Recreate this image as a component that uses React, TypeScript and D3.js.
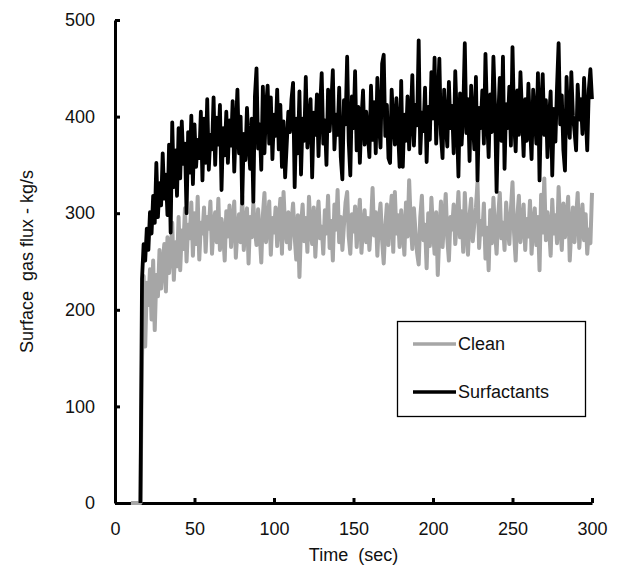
import React, { useEffect, useRef } from "react";
import * as d3 from "d3";

// time in seconds, one sample per second from t=10 to t=300
const startTime = 10;

// Surfactants run (black) - null before the flow starts
const surfactants: (number | null)[] = [
  null, null, null, null, null, null, 0, 232, 268, 251,
  284, 262, 301, 279, 318, 290, 352, 296, 331, 308,
  362, 315, 340, 298, 371, 280, 394, 327, 365, 318,
  388, 336, 395, 351, 372, 300, 384, 342, 401, 330,
  392, 348, 376, 357, 405, 334, 398, 352, 418, 345,
  381, 366, 420, 350, 399, 371, 412, 324, 388, 360,
  405, 352, 396, 370, 416, 343, 389, 428, 362, 400,
  310, 382, 355, 409, 372, 346, 398, 312, 421, 450,
  367, 392, 345, 431, 362, 410, 432, 372, 420, 356,
  402, 380, 428, 366, 412, 348, 395, 337, 371, 405,
  384, 418, 435, 327, 398, 362, 426, 340, 398, 375,
  441, 368, 392, 418, 337, 404, 381, 423, 359, 410,
  445, 372, 396, 350, 428, 385, 412, 448, 366, 402,
  381, 430, 358, 335, 417, 392, 462, 374, 339, 421,
  388, 447, 365, 410, 352, 398, 427, 371, 405, 383,
  358, 432, 376, 415, 362, 440, 394, 368, 455, 464,
  380, 412, 357, 352, 428, 395, 371, 419, 386, 348,
  437, 348, 402, 375, 421, 366, 398, 443, 370, 412,
  391, 479, 362, 404, 385, 430, 353, 410, 376, 446,
  398, 461, 372, 415, 460, 381, 357, 428, 394, 369,
  436, 388, 411, 362, 447, 396, 338, 424, 371, 405,
  476, 383, 418, 354, 432, 397, 366, 441, 334, 409,
  388, 427, 372, 465, 401, 358, 423, 384, 462, 411,
  322, 398, 440, 375, 462, 346, 413, 388, 431, 370,
  472, 395, 364, 427, 381, 446, 402, 359, 418, 375,
  434, 391, 356, 428, 403, 372, 445, 334, 412, 444,
  381, 417, 358, 398, 426, 339, 408, 374, 431, 476,
  392, 422, 365, 344, 441, 396, 378, 446, 401, 385,
  365, 433, 397, 418, 382, 440, 405, 365, 428, 449,
  418,
];

// Clean run (gray)
const clean: (number | null)[] = [
  0, 0, 0, 0, 0, 0, 0, 150, 235, 162,
  228, 205, 242, 190, 251, 179, 236, 214, 262, 222,
  246, 268, 219, 275, 238, 258, 290, 231, 270, 245,
  296, 241, 282, 263, 305, 250, 288, 274, 311, 256,
  300, 268, 317, 252, 290, 279, 306, 260, 296, 284,
  312, 258, 287, 301, 270, 315, 262, 294, 281, 251,
  302, 276, 308, 265, 291, 312, 254, 283, 299, 270,
  318, 262, 289, 305, 248, 296, 275, 310, 283, 267,
  304, 279, 249, 298, 321, 270, 288, 312, 257, 295,
  280, 306, 266, 292, 315, 258, 322, 284, 270, 301,
  263, 291, 310, 276, 252, 298, 234, 287, 309, 271,
  295, 260, 317, 282, 268, 306, 255, 290, 312, 274,
  286, 258, 303, 279, 318, 264, 292, 251, 309, 283,
  324, 270, 296, 262, 288, 311, 322, 276, 258, 299,
  281, 307, 265, 292, 314, 259, 286, 303, 270, 295,
  262, 289, 326, 277, 301, 256, 293, 310, 272, 248,
  286, 309, 267, 294, 318, 260, 322, 279, 298, 265,
  303, 284, 257, 311, 276, 334, 290, 263, 305, 281,
  259, 247, 296, 318, 272, 288, 243, 300, 266, 316,
  283, 258, 301, 236, 279, 312, 265, 293, 320, 274,
  251, 296, 283, 309, 268, 291, 322, 275, 302, 260,
  321, 284, 257, 298, 315, 271, 289, 306, 332, 264,
  292, 278, 310, 253, 285, 241, 303, 269, 316, 282,
  258, 297, 321, 274, 290, 262, 311, 285, 268, 304,
  332, 279, 251, 296, 318, 270, 288, 309, 262, 294,
  276, 313, 258, 289, 305, 267, 296, 241, 319, 280,
  336, 272, 301, 285, 256, 314, 279, 298, 269, 327,
  288, 262, 310, 275, 295, 317, 251, 284, 306, 270,
  296, 321, 264, 288, 309, 272, 299, 258, 283, 269,
  321,
];

const xTicks = [0, 50, 100, 150, 200, 250, 300];
const yTicks = [0, 100, 200, 300, 400, 500];
const legendLabels = ["Clean", "Surfactants"];
const seriesColors = ["#a6a6a6", "#000000"];

const W = 622;
const H = 571;
const FONT = "'Liberation Sans', Arial, sans-serif";

export default function App() {
  const ref = useRef<SVGSVGElement>(null);

  useEffect(() => {
    const svg = d3.select(ref.current);
    svg.selectAll("*").remove();

    const margin = { top: 20, right: 30, bottom: 68, left: 115 };
    const x = d3.scaleLinear().domain([0, 300]).range([margin.left, 592]);
    const y = d3.scaleLinear().domain([0, 500]).range([503, margin.top]);

    const g = svg.append("g");

    // axes, ticks pointing inward
    const yAxis = d3.axisLeft(y).tickValues(yTicks).tickSize(-5).tickSizeOuter(0).tickPadding(20);
    const xAxis = d3.axisBottom(x).tickValues(xTicks).tickSize(-5).tickSizeOuter(0).tickPadding(19);

    const ya = g.append("g").attr("transform", `translate(${x(0)},0)`).call(yAxis);
    const xa = g.append("g").attr("transform", `translate(0,${y(0)})`).call(xAxis);
    [ya, xa].forEach(a => {
      a.select(".domain").attr("stroke", "#000").attr("stroke-width", 3);
      a.selectAll(".tick line").attr("stroke", "#000").attr("stroke-width", 3);
      a.selectAll(".tick text")
        .attr("font-family", FONT)
        .attr("font-size", 18)
        .attr("fill", "#111");
    });

    // series
    const seriesList = [clean, surfactants];
    const line = d3.line<number | null>()
      .defined(d => d !== null)
      .x((d, i) => x(startTime + i))
      .y(d => y(d as number));

    seriesList.forEach((s, k) => {
      g.append("path")
        .datum(s)
        .attr("fill", "none")
        .attr("stroke", seriesColors[k])
        .attr("stroke-width", k === 0 ? 4 : 3.8)
        .attr("stroke-linejoin", "round")
        .attr("d", line);
    });

    // axis titles
    g.append("text")
      .attr("x", (x(0) + x(300)) / 2)
      .attr("y", 561)
      .attr("text-anchor", "middle")
      .attr("font-family", FONT)
      .attr("font-size", 18)
      .attr("fill", "#111")
      .attr("xml:space", "preserve")
      .text("Time  (sec)");

    g.append("text")
      .attr("transform", `translate(33,${(y(0) + y(500)) / 2}) rotate(-90)`)
      .attr("text-anchor", "middle")
      .attr("font-family", FONT)
      .attr("font-size", 18)
      .attr("fill", "#111")
      .attr("xml:space", "preserve")
      .text("Surface  gas flux - kg/s");

    // legend
    const lg = g.append("g");
    lg.append("rect")
      .attr("x", 397.5).attr("y", 321.5)
      .attr("width", 188).attr("height", 95)
      .attr("fill", "#fff").attr("stroke", "#000").attr("stroke-width", 1.3);
    legendLabels.forEach((lab, i) => {
      const ly = 344 + i * 48;
      lg.append("line")
        .attr("x1", 413).attr("x2", 456)
        .attr("y1", ly).attr("y2", ly)
        .attr("stroke", seriesColors[i]).attr("stroke-width", 3.4);
      lg.append("text")
        .attr("x", 458).attr("y", ly)
        .attr("dy", "0.35em")
        .attr("font-family", FONT)
        .attr("font-size", 18)
        .attr("fill", "#111")
        .text(lab);
    });
  }, []);

  return (
    <svg
      ref={ref}
      width={W}
      height={H}
      style={{ position: "absolute", left: 0, top: 0, background: "#fff" }}
    />
  );
}
